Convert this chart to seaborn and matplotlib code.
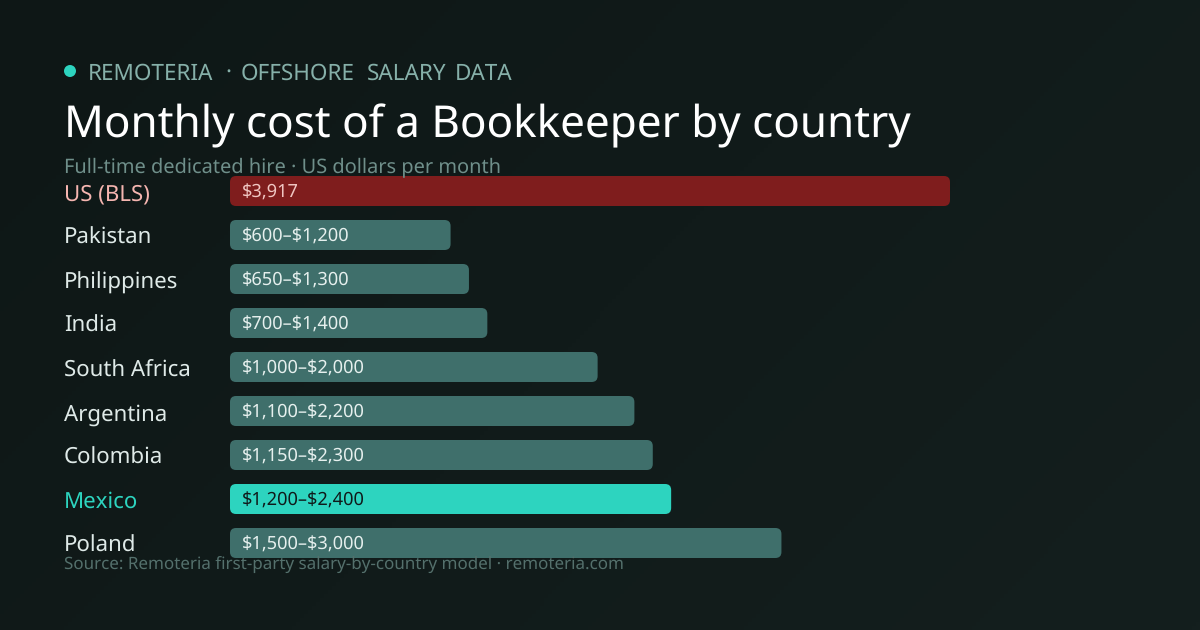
import numpy as np
import pandas as pd
import seaborn as sns
import matplotlib.pyplot as plt
from matplotlib.colors import LinearSegmentedColormap
from matplotlib.patches import FancyBboxPatch, Circle

# data
countries = ["US (BLS)", "Pakistan", "Philippines", "India", "South Africa",
             "Argentina", "Colombia", "Mexico", "Poland"]
high_values = [3917, 1200, 1300, 1400, 2000, 2200, 2300, 2400, 3000]
bar_labels = ["$3,917", "$600–$1,200", "$650–$1,300", "$700–$1,400", "$1,000–$2,000",
              "$1,100–$2,200", "$1,150–$2,300", "$1,200–$2,400", "$1,500–$3,000"]
kicker_words = ["REMOTERIA", "·", "OFFSHORE", "SALARY", "DATA"]
kicker_x = [88, 225, 241, 367, 455]

W, H = 1200, 630
TEAL = "#2dd4bf"
MUTED_BAR = "#3f6f6b"
RED_BAR = "#7f1d1d"

bar_colors = {"US (BLS)": RED_BAR, "Mexico": TEAL}
name_colors = {"US (BLS)": "#f5b5b0", "Mexico": TEAL}
value_colors = {"US (BLS)": "#f0c6c2", "Mexico": "#0f1a1a"}

sns.set_theme(style="white")
plt.rcParams["font.family"] = ["Noto Sans", "DejaVu Sans"]
plt.rcParams["text.hinting"] = "no_hinting"
plt.rcParams["text.hinting_factor"] = 1

df = pd.DataFrame({"country": countries, "high": high_values})
palette = {c: bar_colors.get(c, MUTED_BAR) for c in countries}

fig = plt.figure(figsize=(W / 100, H / 100), dpi=100)

# background gradient, full figure
bg = fig.add_axes([0, 0, 1, 1], zorder=0)
bg.axis("off")
cmap = LinearSegmentedColormap.from_list("bg", ["#0e1716", "#111b1a", "#141f1e"])
xx, yy = np.meshgrid(np.linspace(0, 1, 300), np.linspace(0, 1, 158))
bg.imshow(xx * 0.66 + yy * 0.34, cmap=cmap, vmin=0, vmax=1, aspect="auto")

# axes pinned so $0 is x=230 and $3,917 is x=950, bars from y=176 to 558
ax = fig.add_axes([230 / W, 1 - 558 / H, 720 / W, 382 / H], zorder=1)
ax.patch.set_alpha(0)
bar_w = 30 / 44
sns.barplot(data=df, x="high", y="country", hue="country", palette=palette,
            order=countries, legend=False, width=bar_w, saturation=1, ax=ax)
ax.set_xlim(0, 3917)
ax.set_ylim(8 + bar_w / 2, -bar_w / 2)
ax.axis("off")

# swap square bars for rounded ones
px_x = 3917 / 720
px_y = 1 / 44
for bar in list(ax.patches):
    x, y = bar.get_x(), bar.get_y()
    w, h = bar.get_width(), bar.get_height()
    color = bar.get_facecolor()
    bar.remove()
    ax.add_patch(FancyBboxPatch((x, y), w, h, boxstyle=f"round,pad=0,rounding_size={6 * px_x}",
                                mutation_aspect=px_y / px_x, facecolor=color, edgecolor="none",
                                clip_on=False))

# value labels inside the bars, country names to the left
for i, c in enumerate(countries):
    ax.text(12 * px_x, i + 6.5 * px_y, bar_labels[i], color=value_colors.get(c, "#e6f0ee"),
            fontsize=13.1, va="baseline", ha="left", zorder=5, parse_math=False)
    ax.text(-166 * px_x, i + 9.25 * px_y, c, color=name_colors.get(c, "#dfeae8"),
            fontsize=16, va="baseline", ha="left", zorder=5, clip_on=False)

# header and source
for word, x in zip(kicker_words, kicker_x):
    fig.text(x / W, 1 - 80 / H, word, color="#86b0a9",
             fontsize=16.2, ha="left", va="baseline", zorder=3)
fig.text(64 / W, 1 - 137 / H, "Monthly cost of a Bookkeeper by country", color="#ffffff",
         fontsize=31.68, ha="left", va="baseline", zorder=3)
fig.text(64 / W, 1 - 172 / H, "Full-time dedicated hire · US dollars per month", color="#6f8f8a",
         fontsize=14.4, ha="left", va="baseline", zorder=3)
fig.text(64 / W, 1 - 569 / H, "Source: Remoteria first-party salary-by-country model · remoteria.com",
         color="#54706c", fontsize=12.24, ha="left", va="baseline", zorder=3)

# kicker dot
dot = fig.add_axes([0, 0, 1, 1], zorder=2)
dot.axis("off")
dot.set_xlim(0, W)
dot.set_ylim(H, 0)
dot.add_patch(Circle((70, 71), 6, color=TEAL, lw=0))

fig.savefig("out.png", dpi=100, facecolor="#0f1817")
